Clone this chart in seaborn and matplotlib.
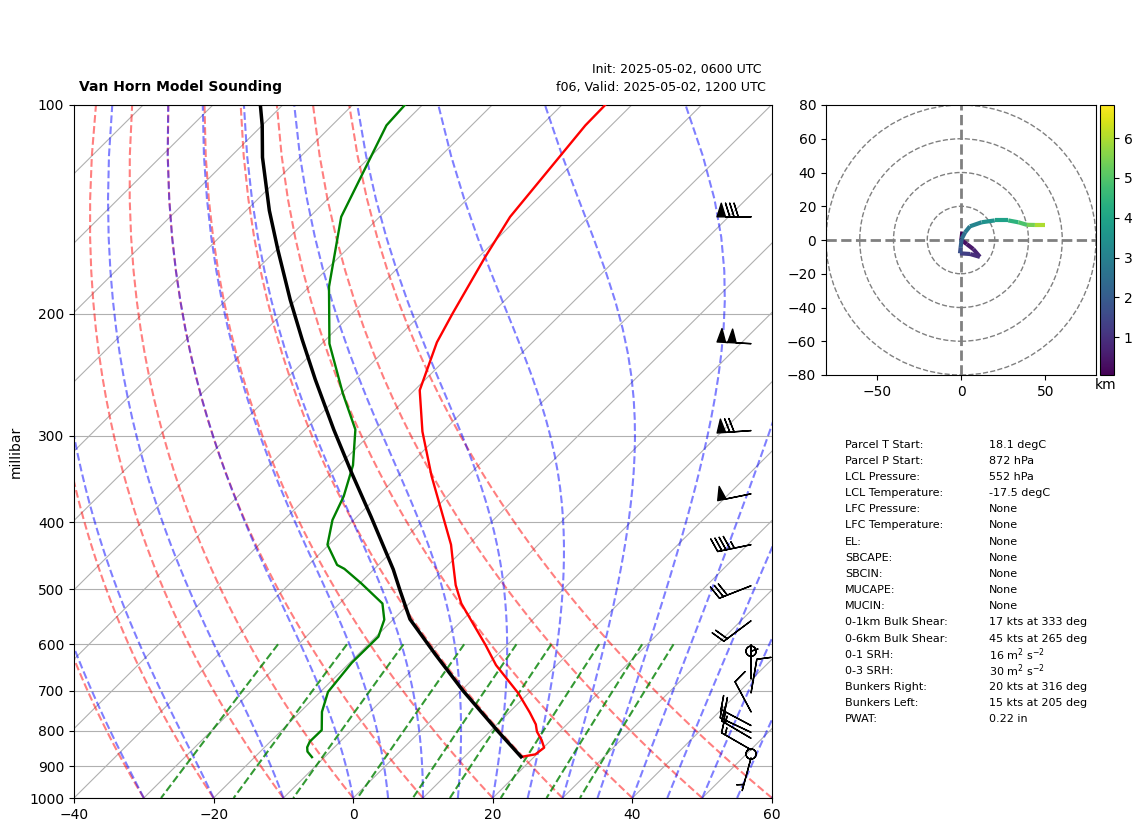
import numpy as np
import pandas as pd
import seaborn as sns
import matplotlib
matplotlib.use('Agg')
import matplotlib.pyplot as plt
from matplotlib.collections import LineCollection
from matplotlib.patches import Circle
from matplotlib.ticker import NullLocator, FixedLocator, FixedFormatter

# sounding (surface upward)
temp_p = [872, 865, 846, 825, 802, 783, 753, 706, 643, 601, 524, 493, 454, 431,
          343, 296, 258, 220, 200, 166, 145, 107, 100]
temp_c = [18.2, 19.8, 20.1, 18.65, 16.75, 15.55, 13.0, 8.55, 1.3, -3.15, -12.55, -16.0, -20.0, -22.5,
          -35.2, -42.9, -49.25, -53.7, -55.6, -59.05, -61.3, -63.7, -63.8]

dewp_p = [873, 857, 845, 829, 798, 751, 703, 638, 585, 553, 524, 490, 467, 461, 431,
          397, 367, 331, 294, 261, 221, 183, 145, 107, 100]
dewp_c = [-11.8, -13.25, -13.9, -14.35, -14.3, -16.9, -18.9, -19.7, -19.65, -21.25, -23.85, -29.8, -34.3, -35.9, -40.2,
          -43.05, -44.85, -48.0, -52.8, -59.75, -68.9, -77.15, -85.5, -92.2, -92.5]

parcel_p = [872, 800, 700, 620, 552, 501, 468, 393, 340, 294, 249, 218, 191, 162, 142, 119, 107, 100]
parcel_c = [18.1, 11.0, 0.25, -9.0, -17.65, -23.3, -27.2, -37.95, -47.0, -55.9, -65.75, -73.4, -80.85, -89.75,
            -96.7, -105.35, -110.0, -113.2]

# wind barbs (knots)
barb_p = [145, 221, 295, 364, 431, 494, 555, 614, 673, 705, 751, 786, 804, 820, 852, 864, 875]
barb_u = [80, 100, 70, 49, 44, 28, 16, 0, 0, -1.7, 4.7, 17.7, 13.6, 12.9, 13, 0, 1.3]
barb_v = [0, -5, 5, 10, 9, 11, 12, 0, -5, -9.9, -8.8, -9.4, -6.4, -7.6, -7.5, 0, 4.8]

# hodograph
hodo_u = [0.8, 0.2, 3.4, 7.3, 11.2, 5.4, -0.6, -0.2, 0.4, 2.4, 5.3, 12.2, 20.0, 28.0, 34.0, 39.0, 43.8, 49.7]
hodo_v = [5.0, 0.0, -2.4, -5.4, -10.0, -8.3, -7.9, -4.3, 0.6, 4.5, 8.1, 10.5, 11.6, 11.6, 10.5, 9.0, 8.9, 8.9]
hodo_z = [0.1, 0.3, 0.5, 0.7, 0.9, 1.3, 1.7, 2.1, 2.5, 2.8, 3.1, 3.5, 3.9, 4.4, 4.9, 5.4, 6.0, 6.83]

table_names = ['Parcel T Start:', 'Parcel P Start:', 'LCL Pressure:', 'LCL Temperature:', 'LFC Pressure:',
               'LFC Temperature:', 'EL:', 'SBCAPE:', 'SBCIN:', 'MUCAPE:', 'MUCIN:', '0-1km Bulk Shear:',
               '0-6km Bulk Shear:', '0-1 SRH:', '0-3 SRH:', 'Bunkers Right:', 'Bunkers Left:', 'PWAT:']
table_vals = ['18.1 degC', '872 hPa', '552 hPa', '-17.5 degC', 'None', 'None', 'None', 'None', 'None', 'None',
              'None', '17 kts at 333 deg', '45 kts at 265 deg', '16 m$^2$ s$^{-2}$', '30 m$^2$ s$^{-2}$',
              '20 kts at 316 deg', '15 kts at 205 deg', '0.22 in']

press_ticks = [100, 200, 300, 400, 500, 600, 700, 800, 900, 1000]
mix_ratios = [0.0004, 0.001, 0.002, 0.004, 0.007, 0.01, 0.016, 0.024, 0.032]

W, H = 1142, 832
SKEW = 99.9  # deg per decade of pressure


def skew_x(t, p):
    return np.asarray(t, dtype=float) + SKEW * np.log10(1000.0 / np.asarray(p, dtype=float))


def px_axes(left, top, right, bottom):
    return fig.add_axes([left / W, 1 - bottom / H, (right - left) / W, (bottom - top) / H])


def sat_vap(t_k):
    return 6.112 * np.exp(17.67 * (t_k - 273.15) / (t_k - 29.65))


def moist_rate(t_k, p):
    rs = 0.622 * sat_vap(t_k) / (p - sat_vap(t_k))
    return (287.0 * t_k + 2.501e6 * rs) / (1005.0 + 2.501e6 ** 2 * rs * 0.622 / (287.0 * t_k ** 2)) / p


def moist_line(t0, press):
    out = [t0 + 273.15]
    for p0, p1 in zip(press[:-1], press[1:]):
        t = out[-1]
        ps = np.linspace(p0, p1, 6)
        for a, b in zip(ps[:-1], ps[1:]):
            h = b - a
            k1 = moist_rate(t, a)
            k2 = moist_rate(t + h * k1 / 2, a + h / 2)
            k3 = moist_rate(t + h * k2 / 2, a + h / 2)
            k4 = moist_rate(t + h * k3, b)
            t = t + h * (k1 + 2 * k2 + 2 * k3 + k4) / 6
        out.append(t)
    return np.array(out) - 273.15


fig = plt.figure(figsize=(W / 100, H / 100), dpi=100)
ax = px_axes(74, 105, 772, 798)
ax.set_yscale('log')

# background lines
press = np.linspace(1000, 100, 50)
for t0 in np.arange(-140, 61, 10):
    ax.plot(skew_x([t0, t0], [1000, 100]), [1000, 100], color='#b0b0b0', lw=0.8, zorder=1)
for t0 in np.arange(-40, 61, 10):
    t = (t0 + 273.15) * (press / 1000.0) ** 0.2854 - 273.15
    ax.plot(skew_x(t, press), press, color='r', ls='--', alpha=0.5, lw=1.5, zorder=2)
for t0 in np.concatenate((np.arange(-40, 0, 10), np.arange(0, 61, 5))):
    ax.plot(skew_x(moist_line(float(t0), press), press), press, color='b', ls='--', alpha=0.5, lw=1.5, zorder=2)
mix_press = np.linspace(600, 1000, 50)
for w in mix_ratios:
    ln_e = np.log(mix_press * w / (0.622 + w) / 6.112)
    td = 243.5 * ln_e / (17.67 - ln_e)
    ax.plot(skew_x(td, mix_press), mix_press, color='g', ls='--', alpha=0.8, lw=1.5, zorder=2)

temp_df = pd.DataFrame({'x': skew_x(temp_c, temp_p), 'p': temp_p})
dewp_df = pd.DataFrame({'x': skew_x(dewp_c, dewp_p), 'p': dewp_p})
parcel_df = pd.DataFrame({'x': skew_x(parcel_c, parcel_p), 'p': parcel_p})
sns.lineplot(data=temp_df, x='x', y='p', color='r', lw=1.7, sort=False, estimator=None, ax=ax, zorder=4)
sns.lineplot(data=dewp_df, x='x', y='p', color='g', lw=1.7, sort=False, estimator=None, ax=ax, zorder=4)
sns.lineplot(data=parcel_df, x='x', y='p', color='k', lw=2.5, sort=False, estimator=None, ax=ax, zorder=5)

ax.barbs(np.full(len(barb_p), 0.97), barb_p, barb_u, barb_v, transform=ax.get_yaxis_transform(), zorder=6)

ax.set_xlim(-40, 60)
ax.set_ylim(1000, 100)
ax.yaxis.set_major_locator(FixedLocator(press_ticks))
ax.yaxis.set_major_formatter(FixedFormatter([str(p) for p in press_ticks]))
ax.yaxis.set_minor_locator(NullLocator())
ax.grid(axis='y', color='#b0b0b0', lw=0.8, zorder=1)
ax.set_axisbelow(True)
ax.set_xlabel('')
ax.set_ylabel('millibar')
ax.yaxis.set_label_coords((23 - 74) / 698, 0.5)

fig.text(79 / W, 1 - 87.5 / H, 'Van Horn Model Sounding', fontweight='bold', fontsize=10, va='center')
fig.text(762 / W, 1 - 70 / H, 'Init: 2025-05-02, 0600 UTC', fontsize=9, ha='right', va='center')
fig.text(766 / W, 1 - 88 / H, 'f06, Valid: 2025-05-02, 1200 UTC', fontsize=9.1, ha='right', va='center')

# hodograph
hax = px_axes(826, 105, 1096, 375)
for r in [20, 40, 60, 80]:
    hax.add_patch(Circle((0, 0), r, fill=False, ec='grey', ls='--', lw=1, zorder=1))
hax.axhline(0, color='grey', ls='--', lw=2, zorder=1)
hax.axvline(0, color='grey', ls='--', lw=2, zorder=1)
pts = np.column_stack([hodo_u, hodo_v])
segs = np.stack([pts[:-1], pts[1:]], axis=1)
lc = LineCollection(segs, cmap='viridis', lw=3, zorder=3)
lc.set_array(np.array(hodo_z[:-1]))
lc.set_clim(0.05, 6.83)
hax.add_collection(lc)
hax.set_xlim(-80, 80)
hax.set_ylim(-80, 80)
hax.set_xticks([-50, 0, 50])
hax.set_yticks(np.arange(-80, 81, 20))

cax = px_axes(1100, 105, 1114, 375)
cbar = fig.colorbar(lc, cax=cax)
cbar.set_ticks([1, 2, 3, 4, 5, 6])
fig.text(1106 / W, 1 - 384.5 / H, 'km', fontsize=10, ha='center', va='center')

# parameter table
for i, (name, val) in enumerate(zip(table_names, table_vals)):
    y = 444.5 + i * 16.17
    fig.text(845 / W, 1 - y / H, name, fontsize=8, va='center')
    fig.text(989 / W, 1 - y / H, val, fontsize=8, va='center')

fig.savefig('out.png', dpi=100)
